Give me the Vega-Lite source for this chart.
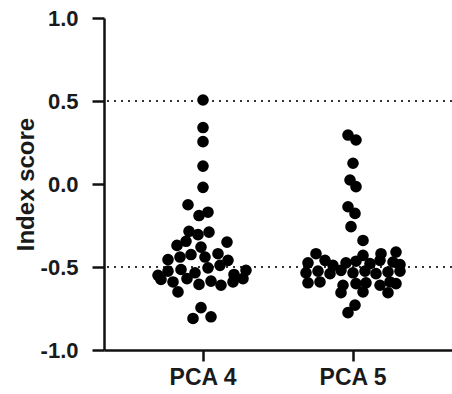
{
  "$schema": "https://vega.github.io/schema/vega-lite/v6.json",
  "width": 348,
  "height": 332,
  "autosize": "none",
  "padding": {"left": 104, "top": 18, "right": 0, "bottom": 44},
  "background": "white",
  "config": {
    "view": {"stroke": null},
    "font": "Liberation Sans",
    "axis": {"grid": false, "domainColor": "#111", "domainWidth": 2.5, "tickColor": "#111", "tickWidth": 2.5, "labelColor": "#1a1a1a", "titleColor": "#1a1a1a", "labelFont": "Liberation Sans", "titleFont": "Liberation Sans", "labelFontWeight": "bold", "titleFontWeight": "bold"}
  },
  "datasets": {
    "pts": [
      {"group": "PCA 4", "jitter": 0, "score": 0.506},
      {"group": "PCA 4", "jitter": 0, "score": 0.34},
      {"group": "PCA 4", "jitter": 0, "score": 0.255},
      {"group": "PCA 4", "jitter": 0, "score": 0.108},
      {"group": "PCA 4", "jitter": 0, "score": -0.02},
      {"group": "PCA 4", "jitter": -15, "score": -0.125},
      {"group": "PCA 4", "jitter": -4, "score": -0.19},
      {"group": "PCA 4", "jitter": 5, "score": -0.17},
      {"group": "PCA 4", "jitter": -14, "score": -0.285},
      {"group": "PCA 4", "jitter": -5, "score": -0.305},
      {"group": "PCA 4", "jitter": 6, "score": -0.29},
      {"group": "PCA 4", "jitter": -26, "score": -0.37},
      {"group": "PCA 4", "jitter": -17, "score": -0.345},
      {"group": "PCA 4", "jitter": -2, "score": -0.38},
      {"group": "PCA 4", "jitter": 24, "score": -0.35},
      {"group": "PCA 4", "jitter": -35, "score": -0.455},
      {"group": "PCA 4", "jitter": -23, "score": -0.44},
      {"group": "PCA 4", "jitter": -12, "score": -0.425},
      {"group": "PCA 4", "jitter": 2, "score": -0.44},
      {"group": "PCA 4", "jitter": 15, "score": -0.42},
      {"group": "PCA 4", "jitter": 25, "score": -0.46},
      {"group": "PCA 4", "jitter": -45, "score": -0.55},
      {"group": "PCA 4", "jitter": -35, "score": -0.525},
      {"group": "PCA 4", "jitter": -22, "score": -0.515},
      {"group": "PCA 4", "jitter": -8, "score": -0.535},
      {"group": "PCA 4", "jitter": 5, "score": -0.505},
      {"group": "PCA 4", "jitter": 17, "score": -0.49},
      {"group": "PCA 4", "jitter": 31, "score": -0.545},
      {"group": "PCA 4", "jitter": 43, "score": -0.52},
      {"group": "PCA 4", "jitter": -42, "score": -0.575},
      {"group": "PCA 4", "jitter": -30, "score": -0.59},
      {"group": "PCA 4", "jitter": -16, "score": -0.57},
      {"group": "PCA 4", "jitter": -4, "score": -0.605},
      {"group": "PCA 4", "jitter": 8, "score": -0.585},
      {"group": "PCA 4", "jitter": 18, "score": -0.61},
      {"group": "PCA 4", "jitter": 30, "score": -0.59},
      {"group": "PCA 4", "jitter": 40, "score": -0.57},
      {"group": "PCA 4", "jitter": -25, "score": -0.65},
      {"group": "PCA 4", "jitter": -2, "score": -0.745},
      {"group": "PCA 4", "jitter": -10, "score": -0.81},
      {"group": "PCA 4", "jitter": 8, "score": -0.8},
      {"group": "PCA 5", "jitter": -5, "score": 0.295},
      {"group": "PCA 5", "jitter": 3, "score": 0.265},
      {"group": "PCA 5", "jitter": 0, "score": 0.125},
      {"group": "PCA 5", "jitter": -3, "score": 0.024},
      {"group": "PCA 5", "jitter": 3, "score": -0.016},
      {"group": "PCA 5", "jitter": -5, "score": -0.137},
      {"group": "PCA 5", "jitter": 2, "score": -0.177},
      {"group": "PCA 5", "jitter": -2, "score": -0.257},
      {"group": "PCA 5", "jitter": 10, "score": -0.34},
      {"group": "PCA 5", "jitter": -37, "score": -0.42},
      {"group": "PCA 5", "jitter": 10, "score": -0.43},
      {"group": "PCA 5", "jitter": 28, "score": -0.42},
      {"group": "PCA 5", "jitter": 43, "score": -0.41},
      {"group": "PCA 5", "jitter": -45, "score": -0.475},
      {"group": "PCA 5", "jitter": -28, "score": -0.46},
      {"group": "PCA 5", "jitter": -20, "score": -0.49},
      {"group": "PCA 5", "jitter": -7, "score": -0.475},
      {"group": "PCA 5", "jitter": 3, "score": -0.465},
      {"group": "PCA 5", "jitter": 17, "score": -0.48},
      {"group": "PCA 5", "jitter": 27, "score": -0.46},
      {"group": "PCA 5", "jitter": 40, "score": -0.47},
      {"group": "PCA 5", "jitter": 47, "score": -0.485},
      {"group": "PCA 5", "jitter": -47, "score": -0.535},
      {"group": "PCA 5", "jitter": -35, "score": -0.525},
      {"group": "PCA 5", "jitter": -23, "score": -0.54},
      {"group": "PCA 5", "jitter": -12, "score": -0.52},
      {"group": "PCA 5", "jitter": 0, "score": -0.535},
      {"group": "PCA 5", "jitter": 12, "score": -0.525},
      {"group": "PCA 5", "jitter": 23, "score": -0.54},
      {"group": "PCA 5", "jitter": 35, "score": -0.53},
      {"group": "PCA 5", "jitter": 47, "score": -0.525},
      {"group": "PCA 5", "jitter": -45, "score": -0.595},
      {"group": "PCA 5", "jitter": -33, "score": -0.59},
      {"group": "PCA 5", "jitter": -10, "score": -0.61},
      {"group": "PCA 5", "jitter": 3, "score": -0.6},
      {"group": "PCA 5", "jitter": 13, "score": -0.595},
      {"group": "PCA 5", "jitter": 27, "score": -0.61},
      {"group": "PCA 5", "jitter": 37, "score": -0.59},
      {"group": "PCA 5", "jitter": 43, "score": -0.6},
      {"group": "PCA 5", "jitter": -12, "score": -0.655},
      {"group": "PCA 5", "jitter": 10, "score": -0.65},
      {"group": "PCA 5", "jitter": 35, "score": -0.655},
      {"group": "PCA 5", "jitter": 2, "score": -0.73},
      {"group": "PCA 5", "jitter": -5, "score": -0.775}
    ],
    "refs": [{"ref": 0.5}, {"ref": -0.5}]
  },
  "layer": [
    {
      "data": {"name": "refs"},
      "mark": {"type": "rule", "color": "#333", "strokeWidth": 2, "strokeDash": [2, 5]},
      "encoding": {
        "y": {"field": "ref", "type": "quantitative", "scale": {"domain": [-1, 1]}}
      }
    },
    {
      "data": {"name": "pts"},
      "mark": {"type": "circle", "color": "black", "opacity": 1, "size": 135},
      "encoding": {
        "x": {
          "field": "group", "type": "nominal", "sort": ["PCA 4", "PCA 5"],
          "scale": {"type": "band", "paddingInner": 0, "paddingOuter": 0.16},
          "axis": {"title": null, "labelAngle": 0, "labelFontSize": 23, "tickSize": 11, "labelPadding": 5}
        },
        "xOffset": {"field": "jitter", "type": "quantitative", "scale": {"domain": [-75, 75]}},
        "y": {
          "field": "score", "type": "quantitative",
          "scale": {"domain": [-1, 1], "nice": false, "zero": false},
          "axis": {
            "title": "Index score", "titleFontSize": 24, "titlePadding": 2,
            "values": [-1, -0.5, 0, 0.5, 1], "labelFontSize": 22, "tickSize": 12, "labelPadding": 14,
            "labelExpr": "datum.value < 0 ? '-' + format(-datum.value, '.1f') : format(datum.value, '.1f')"
          }
        }
      }
    }
  ]
}
